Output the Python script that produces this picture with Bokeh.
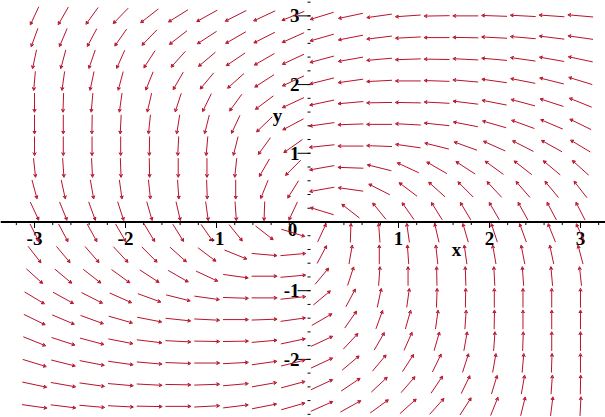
import numpy as np
from bokeh.plotting import figure
from bokeh.models import Arrow, VeeHead, ColumnDataSource, Span
from bokeh.embed import file_html
from bokeh.resources import INLINE
from bokeh.core.properties import value

# grid of the direction field (x left->right, y top->bottom)
grid_x = [-3.0, -2.684, -2.368, -2.053, -1.737, -1.421, -1.105, -0.789, -0.474, -0.158,
          0.158, 0.474, 0.789, 1.105, 1.421, 1.737, 2.053, 2.368, 2.684, 3.0]
grid_y = [3.0, 2.684, 2.368, 2.053, 1.737, 1.421, 1.105, 0.789, 0.474, 0.158,
          -0.158, -0.474, -0.789, -1.105, -1.421, -1.737, -2.053, -2.368, -2.684, -3.0]

# arrow direction as seen on the picture, degrees (0 = right, 90 = up), one row per grid_y
angles = [
    [245, 240, 234, 226, 218, 212, 209, 207, 205, 202, 197, 192, 188, 184, 181, 180, 178, 177, 176, 175],
    [250, 247, 242, 235, 226, 218, 213, 210, 207, 204, 196, 191, 187, 183, 180, 179, 177, 175, 173, 172],
    [258, 255, 251, 246, 237, 228, 220, 214, 210, 205, 195, 190, 185, 182, 179, 177, 175, 172, 170, 168],
    [265, 262, 258, 255, 248, 240, 230, 222, 213, 205, 194, 188, 183, 180, 178, 175, 172, 169, 166, 163],
    [270, 268, 265, 262, 257, 252, 244, 234, 217, 205, 192, 185, 181, 179, 177, 173, 169, 165, 162, 158],
    [270, 270, 269, 267, 264, 261, 256, 245, 224, 208, 188, 182, 180, 177, 174, 169, 164, 160, 157, 154],
    [270, 270, 270, 270, 269, 267, 265, 256, 234, 215, 186, 180, 178, 172, 166, 160, 156, 153, 151, 149],
    [276, 274, 273, 272, 271, 270, 270, 264, 240, 225, 190, 178, 166, 155, 150, 147, 144, 142, 140, 138],
    [285, 282, 280, 278, 276, 274, 272, 270, 248, 238, 190, 172, 153, 143, 138, 135, 133, 131, 130, 128],
    [295, 292, 290, 288, 286, 283, 278, 274, 268, 245, 163, 142, 129, 125, 122, 121, 120, 119, 118, 117],
    [297, 298, 299, 300, 301, 302, 305, 309, 322, 343, 65, 88, 94, 98, 103, 106, 108, 110, 112, 115],
    [308, 310, 311, 313, 315, 318, 323, 338, 355, 5, 62, 80, 90, 94, 96, 98, 100, 101, 102, 105],
    [318, 320, 322, 324, 327, 330, 335, 352, 0, 5, 50, 72, 86, 90, 91, 92, 93, 94, 95, 96],
    [329, 331, 333, 336, 340, 346, 352, 358, 0, 6, 40, 62, 78, 82, 88, 89, 90, 90, 90, 90],
    [334, 337, 340, 344, 349, 354, 357, 0, 2, 8, 30, 55, 70, 74, 82, 86, 89, 90, 90, 90],
    [338, 342, 345, 349, 353, 357, 359, 1, 5, 12, 25, 47, 60, 66, 74, 80, 86, 88, 90, 90],
    [343, 346, 349, 352, 355, 358, 0, 3, 8, 14, 25, 40, 50, 57, 64, 72, 80, 85, 88, 90],
    [348, 350, 352, 355, 357, 359, 2, 5, 10, 15, 25, 34, 43, 49, 56, 64, 73, 80, 86, 89],
    [352, 353, 355, 357, 359, 0, 3, 7, 11, 16, 24, 29, 36, 42, 48, 57, 68, 76, 83, 87],
    [355, 356, 357, 358, 0, 1, 4, 8, 12, 17, 22, 25, 30, 36, 42, 50, 63, 72, 80, 85],
]

x_ticks = [-3, -2, -1, 1, 2, 3]
x_tick_labels = ["-3", "-2", "-1", "1", "2", "3"]
y_ticks = [-2, -1, 1, 2, 3]
y_tick_labels = ["-2", "-1", "1", "2", "3"]
minor_ticks = [-3.2, -3.0, -2.8, -2.6, -2.4, -2.2, -2.0, -1.8, -1.6, -1.4, -1.2, -1.0, -0.8, -0.6,
               -0.4, -0.2, 0.2, 0.4, 0.6, 0.8, 1.0, 1.2, 1.4, 1.6, 1.8, 2.0, 2.2, 2.4, 2.6,
               2.8, 3.0, 3.2]

RED = "#B8122A"
W, H = 605, 417
XR, YR = (-3.374, 3.275), (-2.846, 3.224)
p = figure(width=W, height=H, x_range=XR, y_range=YR,
           x_axis_type=None, y_axis_type=None, toolbar_location=None,
           output_backend="svg", min_border=0)
p.outline_line_color = None
p.grid.visible = False

px_x = W / (XR[1] - XR[0])
px_y = H / (YR[1] - YR[0])
L = 0.28
xs0, ys0, xs1, ys1 = [], [], [], []
for j, y in enumerate(grid_y):
    for k, x in enumerate(grid_x):
        a = np.radians(angles[j][k])
        dx, dy = np.cos(a) / px_x, np.sin(a) / px_y
        n = np.hypot(dx, dy)
        dx, dy = dx / n * L / 2, dy / n * L / 2
        xs0.append(x - dx); ys0.append(y - dy); xs1.append(x + dx); ys1.append(y + dy)
src = ColumnDataSource(dict(x0=xs0, y0=ys0, x1=xs1, y1=ys1))
p.add_layout(Arrow(source=src, x_start="x0", y_start="y0", x_end="x1", y_end="y1",
                   line_color=RED, line_width=1,
                   end=VeeHead(size=3, line_color=RED, line_width=1, fill_color=None)))

p.add_layout(Span(location=0, dimension="width", line_color="black", line_width=2))
n = len(x_ticks)
p.segment(x0=x_ticks, y0=[0.015] * n, x1=x_ticks, y1=[-0.087] * n, line_color="black", line_width=1)
m = len(minor_ticks)
p.segment(x0=minor_ticks, y0=[0] * m, x1=minor_ticks, y1=[-0.045] * m, line_color="black", line_width=1)
ny = len(y_ticks)
p.segment(x0=[-0.11] * ny, y0=y_ticks, x1=[0.033] * ny, y1=y_ticks, line_color="black", line_width=1)
p.segment(x0=[0] * m, y0=minor_ticks, x1=[0.033] * m, y1=minor_ticks, line_color="black", line_width=1)

font = value("Liberation Serif")
p.text(x=x_ticks, y=[-0.24] * n, text=x_tick_labels, text_font=font, text_font_style="bold",
       text_font_size="19px", text_align="center", text_baseline="middle", text_color="black")
p.text(x=[-0.088] * ny, y=y_ticks, text=y_tick_labels, text_font=font, text_font_style="bold",
       text_font_size="19px", text_align="right", text_baseline="middle", text_color="black")
p.text(x=[-0.165], y=[-0.11], text=["0"], text_font=font, text_font_style="bold",
       text_font_size="19px", text_align="center", text_baseline="middle", text_color="black")
p.text(x=[1.637, -0.33], y=[-0.40, 1.55], text=["x", "y"], text_font=font, text_font_style="bold",
       text_font_size="19px", text_align="center", text_baseline="middle", text_color="black")

open("out.html", "w").write(file_html(p, INLINE))
